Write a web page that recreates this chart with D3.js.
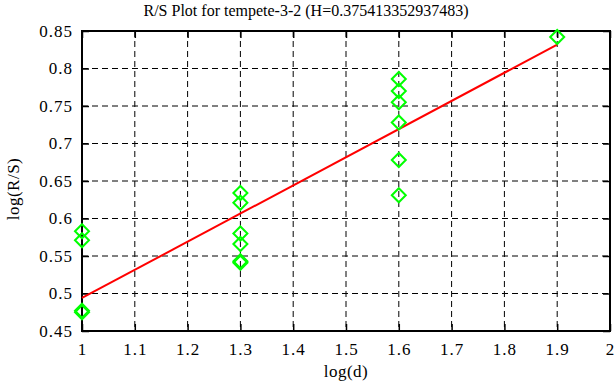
<!DOCTYPE html>
<html>
<head>
<meta charset="utf-8">
<script src="https://cdn.jsdelivr.net/npm/d3@7"></script>
<style>
  body { margin: 0; background: #fff; }
</style>
</head>
<body>
<svg id="chart" width="616" height="387"></svg>
<script>
// data
var logD = [1, 1, 1, 1,
            1.3, 1.3, 1.3, 1.3, 1.3, 1.3,
            1.6, 1.6, 1.6, 1.6, 1.6, 1.6,
            1.9]
var logRS = [0.583, 0.571, 0.477, 0.475,
             0.634, 0.621, 0.580, 0.566, 0.543, 0.541,
             0.786, 0.770, 0.755, 0.728, 0.678, 0.631,
             0.842]
var H = 0.375413352937483
var intercept = 0.1186
var fitX = [1, 1.9]
var xTicks = [1, 1.1, 1.2, 1.3, 1.4, 1.5, 1.6, 1.7, 1.8, 1.9, 2]
var yTicks = [0.45, 0.5, 0.55, 0.6, 0.65, 0.7, 0.75, 0.8, 0.85]

var serif = "'Liberation Serif', 'Times New Roman', 'DejaVu Serif', serif"
var svg = d3.select("#chart")
var pL = 82, pR = 610, pT = 31, pB = 331

var x = d3.scaleLinear().domain([1, 2]).range([pL, pR])
var y = d3.scaleLinear().domain([0.45, 0.85]).range([pB, pT])

// dashed grid
svg.selectAll("vgrid")
  .data(xTicks.slice(1, -1))
  .enter()
  .append("line")
    .attr("x1", function(d){ return x(d) })
    .attr("x2", function(d){ return x(d) })
    .attr("y1", pT)
    .attr("y2", pB)
    .style("stroke", "#000")
    .style("stroke-width", 1)
    .style("stroke-dasharray", "6,4")
svg.selectAll("hgrid")
  .data(yTicks.slice(1, -1))
  .enter()
  .append("line")
    .attr("x1", pL)
    .attr("x2", pR)
    .attr("y1", function(d){ return y(d) })
    .attr("y2", function(d){ return y(d) })
    .style("stroke", "#000")
    .style("stroke-width", 1)
    .style("stroke-dasharray", "6,4")

// axes, ticks pointing inward on all four sides
var tickLen = 7
svg.append("g")
  .attr("transform", "translate(0," + pB + ")")
  .call(d3.axisBottom(x).tickValues(xTicks).tickSize(-tickLen).tickPadding(12).tickFormat(d3.format("")))
svg.append("g")
  .attr("transform", "translate(0," + pT + ")")
  .call(d3.axisTop(x).tickValues(xTicks).tickSize(-tickLen).tickFormat(""))
svg.append("g")
  .attr("transform", "translate(" + pL + ",0)")
  .call(d3.axisLeft(y).tickValues(yTicks).tickSize(-tickLen).tickPadding(9).tickFormat(d3.format("")))
svg.append("g")
  .attr("transform", "translate(" + pR + ",0)")
  .call(d3.axisRight(y).tickValues(yTicks).tickSize(-tickLen).tickFormat(""))

svg.selectAll(".domain").remove()
svg.selectAll(".tick line").style("stroke", "#000").style("stroke-width", 1.5)
svg.selectAll(".tick text")
  .attr("font-family", serif)
  .attr("font-size", 17)
  .style("letter-spacing", "1px")

svg.append("rect")
  .attr("x", pL)
  .attr("y", pT)
  .attr("width", pR - pL)
  .attr("height", pB - pT)
  .style("fill", "none")
  .style("stroke", "#000")
  .style("stroke-width", 2)

// fitted line
svg.append("line")
  .attr("x1", x(fitX[0]))
  .attr("y1", y(H * fitX[0] + intercept))
  .attr("x2", x(fitX[1]))
  .attr("y2", y(H * fitX[1] + intercept))
  .style("stroke", "#ff0000")
  .style("stroke-width", 2)

// diamonds
var r = 7
svg.selectAll("pts")
  .data(logD)
  .enter()
  .append("path")
    .attr("d", function(d, i){
      var cx = x(d), cy = y(logRS[i])
      return "M" + (cx - r) + "," + cy + "L" + cx + "," + (cy - r) + "L" + (cx + r) + "," + cy + "L" + cx + "," + (cy + r) + "Z"
    })
    .style("fill", "none")
    .style("stroke", "#00ff00")
    .style("stroke-width", 2)

// title and labels
svg.append("text")
  .attr("x", 306)
  .attr("y", 16)
  .attr("text-anchor", "middle")
  .attr("font-family", serif)
  .attr("font-size", 16)
  .text("R/S Plot for tempete-3-2 (H=0.375413352937483)")
svg.append("text")
  .attr("x", x(1.5))
  .attr("y", 377)
  .attr("text-anchor", "middle")
  .attr("font-family", serif)
  .attr("font-size", 17)
  .style("letter-spacing", "0.5px")
  .text("log(d)")
svg.append("text")
  .attr("transform", "translate(19,189) rotate(-90)")
  .attr("text-anchor", "middle")
  .attr("font-family", serif)
  .attr("font-size", 17)
  .style("letter-spacing", "0.5px")
  .text("log(R/S)")
</script>
</body>
</html>
